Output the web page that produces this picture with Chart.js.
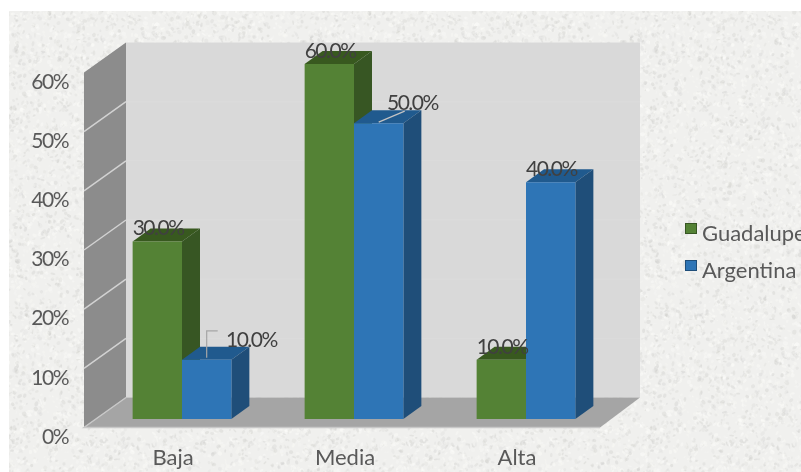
<!DOCTYPE html>
<html>
<head>
<meta charset="utf-8">
<style>
  html, body { margin: 0; padding: 0; background: #fff; }
  canvas { display: block; }
</style>
<script src="https://cdn.jsdelivr.net/npm/chart.js@4/dist/chart.umd.min.js"></script>
</head>
<body>
<canvas id="chart" width="801" height="472"></canvas>
<script>
const categories = ['Baja', 'Media', 'Alta'];
const guadalupe = [30, 60, 10];
const argentina = [10, 50, 40];
const seriesNames = ['Guadalupe', 'Argentina'];
const yMax = 60;
const yStep = 10;

const FAMILY = 'Lato, Carlito, "Open Sans", sans-serif';
const FONT = '22px ' + FAMILY;
const NUMBER_FONT = '21px ' + FAMILY;
const TEXT = '#404040';
const TICK_TEXT = '#595959';

const FRONT = ['#548235', '#2e75b6'];
const SIDE = ['#375623', '#1f4e79'];
const TOP = ['#38591f', '#205a8e'];

// 3d box look, offsets in px
const BAR_DX = 18, BAR_DY = -13;

function polygon(ctx, pts, color) {
  ctx.fillStyle = color;
  ctx.beginPath();
  pts.forEach((p, i) => i ? ctx.lineTo(p[0], p[1]) : ctx.moveTo(p[0], p[1]));
  ctx.closePath();
  ctx.fill();
}

// seeded so that the paper texture is the same on every run
function makeTexture() {
  const c = document.createElement('canvas');
  c.width = 320;
  c.height = 320;
  const g = c.getContext('2d');
  let seed = 12345;
  const rnd = () => (seed = (seed * 16807) % 2147483647) / 2147483647;
  g.fillStyle = '#f0f0ee';
  g.fillRect(0, 0, 320, 320);
  g.filter = 'blur(0.7px)';
  for (let i = 0; i < 6500; i++) {
    const shade = rnd() > 0.45 ? 255 : 205;
    g.fillStyle = `rgba(${shade},${shade},${shade - 3},${0.12 + rnd() * 0.28})`;
    g.beginPath();
    g.ellipse(rnd() * 320, rnd() * 320, 0.7 + rnd() * 2, 0.7 + rnd() * 1.5, rnd() * 3, 0, 7);
    g.fill();
  }
  return c;
}

const backdrop = {
  id: 'backdrop',
  beforeDraw(chart) {
    const { ctx, width, height } = chart;
    const { left, right } = chart.chartArea;
    const y = chart.scales.y;
    ctx.save();
    ctx.fillStyle = ctx.createPattern(makeTexture(), 'repeat');
    ctx.fillRect(9, 11, width - 9, height - 11);

    // walls and floor sit around the plane of the bars
    const frontL = left - 12, backL = left + 30;
    const frontR = right - 12, backR = right + 28;
    const front = (v) => y.getPixelForValue(v) + 8.5;
    const back = (v) => y.getPixelForValue(v) - 21.5;

    polygon(ctx, [[backL, back(yMax)], [backR, back(yMax)], [backR, back(0)], [backL, back(0)]], '#d9d9d9');
    polygon(ctx, [[frontL, front(yMax)], [backL, back(yMax)], [backL, back(0)], [frontL, front(0)]], '#8c8c8c');
    polygon(ctx, [[frontL, front(0)], [backL, back(0)], [backR, back(0)], [frontR, front(0)]], '#a5a5a5');

    y.ticks.forEach((t) => {
      if (t.value === 0 || t.value === yMax) return;
      ctx.strokeStyle = '#d2d2d2';
      ctx.lineWidth = 1.5;
      ctx.beginPath();
      ctx.moveTo(frontL, front(t.value));
      ctx.lineTo(backL, back(t.value));
      ctx.stroke();
      ctx.strokeStyle = '#dcdcdc';
      ctx.lineWidth = 1;
      ctx.beginPath();
      ctx.moveTo(backL, back(t.value));
      ctx.lineTo(backR, back(t.value));
      ctx.stroke();
    });
    ctx.strokeStyle = '#c8c8c8';
    ctx.lineWidth = 1.5;
    ctx.beginPath();
    ctx.moveTo(backL, back(0));
    ctx.lineTo(frontL, front(0));
    ctx.lineTo(frontR, front(0));
    ctx.stroke();

    // y tick labels hang a bit under their wall line
    ctx.font = NUMBER_FONT;
    ctx.fillStyle = TICK_TEXT;
    ctx.textAlign = 'right';
    ctx.textBaseline = 'middle';
    ctx.letterSpacing = '-1.5px';
    y.ticks.forEach((t) => ctx.fillText(t.label, 68, y.getPixelForValue(t.value) + 18));
    ctx.restore();
  },
  beforeDatasetsDraw(chart) {
    const { ctx } = chart;
    ctx.save();
    chart.data.datasets.forEach((ds, i) => {
      chart.getDatasetMeta(i).data.forEach((bar) => {
        const l = bar.x - bar.width / 2, r = bar.x + bar.width / 2;
        polygon(ctx, [[l, bar.y], [l + BAR_DX, bar.y + BAR_DY], [r + BAR_DX, bar.y + BAR_DY], [r, bar.y]], TOP[i]);
        polygon(ctx, [[r, bar.y], [r + BAR_DX, bar.y + BAR_DY], [r + BAR_DX, bar.base + BAR_DY], [r, bar.base]], SIDE[i]);
      });
    });
    ctx.restore();
  },
  afterDatasetsDraw(chart) {
    const { ctx } = chart;
    ctx.save();

    // leader lines
    const lowBar = chart.getDatasetMeta(1).data[0];
    const midBar = chart.getDatasetMeta(1).data[1];
    ctx.lineWidth = 1.2;
    ctx.strokeStyle = '#a6a6a6';
    ctx.beginPath();
    ctx.moveTo(lowBar.x, lowBar.y - 2);
    ctx.lineTo(lowBar.x, lowBar.y - 29);
    ctx.lineTo(lowBar.x + 11, lowBar.y - 29);
    ctx.stroke();
    ctx.strokeStyle = '#c4c4c4';
    ctx.beginPath();
    ctx.moveTo(midBar.x, midBar.y - 1);
    ctx.lineTo(midBar.x + 26, midBar.y - 12);
    ctx.stroke();

    ctx.font = NUMBER_FONT;
    ctx.fillStyle = TEXT;
    ctx.textAlign = 'left';
    ctx.textBaseline = 'middle';
    ctx.letterSpacing = '-1.5px';
    chart.data.datasets.forEach((ds, i) => {
      chart.getDatasetMeta(i).data.forEach((bar, j) => {
        const l = bar.x - bar.width / 2;
        let dx = 0, dy = -13;
        if (i === 1 && j === 0) { dx = 44; dy = -20; }
        if (i === 1 && j === 1) { dx = 33; dy = -20; }
        ctx.fillText(ds.data[j].toFixed(1) + '%', l + dx, bar.y + dy);
      });
    });

    // legend runs off the right edge in the original too
    ctx.font = FONT;
    ctx.letterSpacing = '0px';
    seriesNames.forEach((name, i) => {
      const top = 223 + i * 37;
      ctx.fillStyle = FRONT[i];
      ctx.fillRect(685, top, 12, 11);
      ctx.strokeStyle = SIDE[i];
      ctx.lineWidth = 1;
      ctx.strokeRect(685.5, top + 0.5, 11, 10);
      ctx.fillStyle = TICK_TEXT;
      ctx.fillText(name, 702, top + 11);
    });
    ctx.restore();
  }
};

new Chart(document.getElementById('chart'), {
  type: 'bar',
  data: {
    labels: categories,
    datasets: [
      { label: seriesNames[0], data: guadalupe, backgroundColor: FRONT[0] },
      { label: seriesNames[1], data: argentina, backgroundColor: FRONT[1] },
    ],
  },
  options: {
    responsive: false,
    animation: false,
    layout: { padding: { top: 64, right: 189, left: 0, bottom: 0 } },
    datasets: { bar: { categoryPercentage: 0.574, barPercentage: 1 } },
    plugins: { legend: { display: false }, tooltip: { enabled: false } },
    scales: {
      x: {
        grid: { display: false, drawTicks: false },
        border: { display: false },
        afterFit: (s) => { s.height = 53; },
        ticks: {
          font: { family: FAMILY, size: 22 },
          color: TICK_TEXT,
          padding: 26,
          labelOffset: -9,
          maxRotation: 0,
          autoSkip: false,
        },
      },
      y: {
        min: 0,
        max: yMax,
        grid: { display: false },
        border: { display: false },
        afterFit: (s) => { s.width = 96; },
        ticks: { display: false, stepSize: yStep, callback: (v) => v + '%' },
      },
    },
  },
  plugins: [backdrop],
});
</script>
</body>
</html>
